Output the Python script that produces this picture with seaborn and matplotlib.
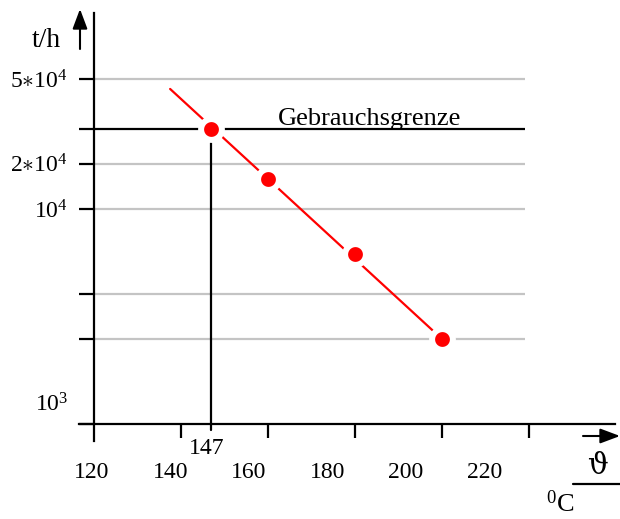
import numpy as np
import pandas as pd
import matplotlib
matplotlib.use("Agg")
import matplotlib.pyplot as plt
from matplotlib.lines import Line2D
import seaborn as sns

# ---- data ----
temps = [147, 160, 180, 200]                 # °C
hours = [27000, 14500, 5700, 2000]           # t/h
fit_x = [137.5, 200]                          # straight fit line (log-linear)
fit_y = [44200, 2000]
limit_value = 27000                           # Gebrauchsgrenze
limit_temp = 147
grid_values = [50000, 17500, 10000, 3500, 2000]
ytick_values = [50000, 27000, 17500, 10000, 3500, 2000]
ytick_labels = [r"$5{\ast}10^{4}$", "", r"$2{\ast}10^{4}$", r"$10^{4}$", "", ""]
xtick_values = [140, 160, 180, 200, 220]
xlabel_values = [120, 140, 160, 180, 200, 220]
bottom_label = r"$10^{3}$"

sns.set_theme(style="white")
plt.rcParams["font.family"] = ["Liberation Serif", "DejaVu Serif"]
plt.rcParams["mathtext.fontset"] = "custom"
plt.rcParams["mathtext.rm"] = "Liberation Serif"
plt.rcParams["mathtext.it"] = "Liberation Serif:italic"
plt.rcParams["mathtext.bf"] = "Liberation Serif:bold"
plt.rcParams["text.color"] = "black"
plt.rcParams["xtick.color"] = "black"
plt.rcParams["ytick.color"] = "black"
plt.rcParams["xtick.labelcolor"] = "black"
plt.rcParams["ytick.labelcolor"] = "black"

W, H = 620, 519
fig = plt.figure(figsize=(W / 100, H / 100), dpi=100)
ax = fig.add_axes([79 / W, (H - 424) / H, (615 - 79) / W, (424 - 13) / H])

# axis limits (log y)
dec = 186.0
ylo = 10 ** (4 - 215 / dec)
yhi = 10 ** (4 + 196 / dec)
ax.set_yscale("log")
ax.set_xlim(116.55, 239.77)
ax.set_ylim(ylo, yhi)

# grid lines
ax.hlines(grid_values, 120, 219, colors="#c4c4c4", linewidth=1.6, zorder=1)
# limit line
ax.hlines([limit_value], 120, 219, colors="black", linewidth=1.6, zorder=2)
ax.plot([limit_temp, limit_temp], [22650, 649], color="black", lw=1.6,
        clip_on=False, zorder=2)

# fit line and points
fit_df = pd.DataFrame({"x": fit_x, "y": fit_y})
sns.lineplot(data=fit_df, x="x", y="y", color="#ff0000", linewidth=1.6,
             ax=ax, zorder=3)
pts = pd.DataFrame({"x": temps, "y": hours})
sns.scatterplot(data=pts, x="x", y="y", color="#ff0000", s=20 ** 2 * 0.56,
                edgecolor="white", linewidth=4.3, ax=ax, zorder=4)

ax.set_xlabel("")
ax.set_ylabel("")

# spines
for s in ["top", "right"]:
    ax.spines[s].set_visible(False)
ax.spines["left"].set_position(("data", 120))
ax.spines["left"].set_bounds(566, yhi)
for s in ["left", "bottom"]:
    ax.spines[s].set_color("black")
    ax.spines[s].set_linewidth(1.6)

# y ticks
ax.yaxis.set_minor_locator(matplotlib.ticker.NullLocator())
ax.set_yticks(ytick_values + [ylo])
ax.set_yticklabels(ytick_labels + [""])
ax.tick_params(axis="y", which="major", direction="out", length=10.8,
               width=1.6, color="black", pad=8, labelsize=17, left=True,
               labelcolor="black")
ax.tick_params(axis="y", which="minor", length=0)

# x ticks (marks only)
ax.set_xticks(xtick_values)
ax.set_xticklabels([""] * len(xtick_values))
ax.tick_params(axis="x", direction="out", length=10, width=1.6,
               color="black", bottom=True)

# x tick labels on a shifted secondary axis
def fwd(x):
    return 120 + (np.asarray(x) - 119.54) / 0.9023

def inv(v):
    return 119.54 + (np.asarray(v) - 120) * 0.9023

sec = ax.secondary_xaxis("bottom", functions=(fwd, inv))
sec.set_xticks(xlabel_values)
sec.set_xticklabels([str(v) for v in xlabel_values])
sec.tick_params(length=0, pad=27, labelsize=17, labelcolor="black")
sec.spines["bottom"].set_visible(False)

# extra labels
ax.annotate(str(limit_temp), xy=(limit_temp, ylo), xycoords="data",
            xytext=(-5, -14), textcoords="offset pixels",
            ha="center", va="top", fontsize=17, color="black")
ax.annotate(bottom_label, xy=(120, ylo), xycoords="data",
            xytext=(-26, 19), textcoords="offset pixels",
            ha="right", va="center", fontsize=17, color="black")
ax.annotate("Gebrauchsgrenze", xy=(183.3, limit_value), xycoords="data",
            xytext=(0, 4), textcoords="offset pixels",
            ha="center", va="baseline", fontsize=19, color="black")

# axis titles and arrows (figure pixel coordinates)
fig.text(46.5 / W, (H - 47) / H, "t/h", ha="center", va="baseline",
         fontsize=20, color="black")
arrow_style = "-|>,head_length=1.2,head_width=0.45"
fig.add_artist(matplotlib.patches.FancyArrowPatch(
    (80 / W, (H - 49) / H), (80 / W, (H - 9) / H),
    transform=fig.transFigure, arrowstyle=arrow_style,
    mutation_scale=10, color="black", lw=1.5, shrinkA=0, shrinkB=0))
fig.add_artist(matplotlib.patches.FancyArrowPatch(
    (583 / W, (H - 436) / H), (620 / W, (H - 436) / H),
    transform=fig.transFigure, arrowstyle=arrow_style,
    mutation_scale=10, color="black", lw=1.5, shrinkA=0, shrinkB=0))
fig.text(597 / W, (H - 466) / H, "ϑ", ha="center", va="center", fontsize=21,
         color="black", family=["DejaVu Serif"])
fig.add_artist(Line2D([573 / W, 620 / W], [(H - 484) / H, (H - 484) / H],
                      transform=fig.transFigure, color="black", lw=1.6))
fig.text(560 / W, (H - 512) / H, r"$^{0}$C", ha="center", va="baseline",
         fontsize=19, color="black")

fig.savefig("out.png", dpi=100)
